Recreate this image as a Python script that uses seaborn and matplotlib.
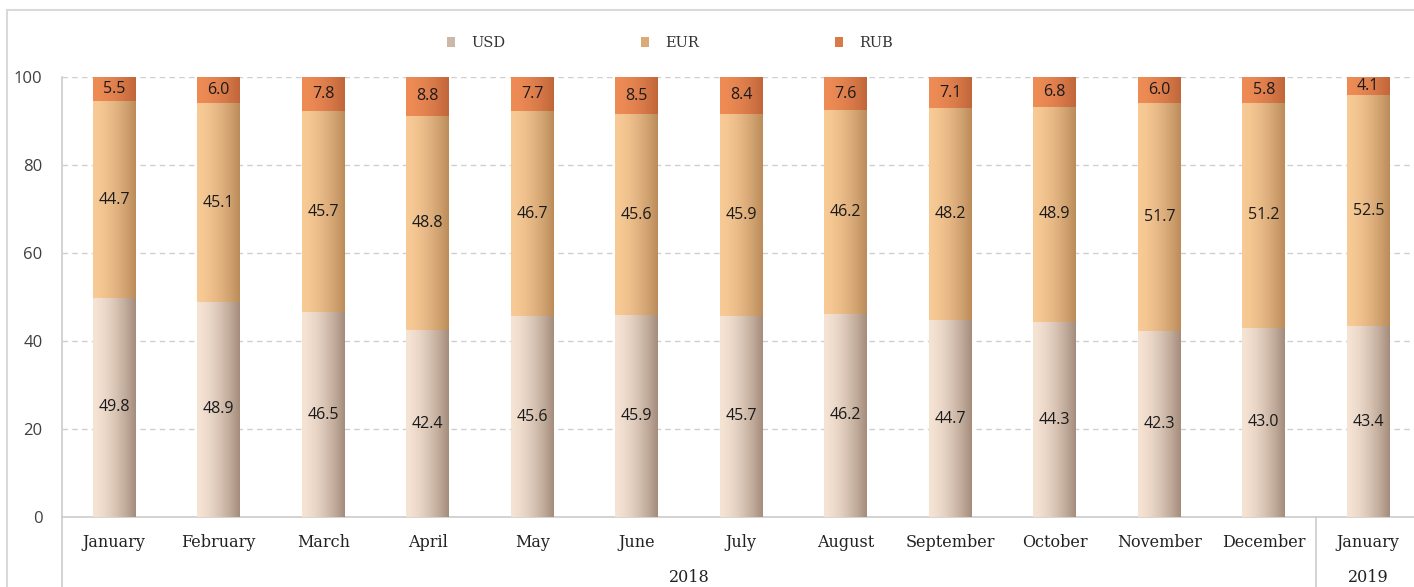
import numpy as np
import pandas as pd
import matplotlib
matplotlib.use('Agg')
import matplotlib.pyplot as plt
import seaborn as sns
from matplotlib.lines import Line2D
from matplotlib.patches import Patch
from matplotlib.colors import to_rgb

# Data
months = ['January', 'February', 'March', 'April', 'May', 'June', 'July',
          'August', 'September', 'October', 'November', 'December', 'January ']
years = ['2018', '2019']
year_sizes = [12, 1]
usd = [49.8, 48.9, 46.5, 42.4, 45.6, 45.9, 45.7, 46.2, 44.7, 44.3, 42.3, 43.0, 43.4]
eur = [44.7, 45.1, 45.7, 48.8, 46.7, 45.6, 45.9, 46.2, 48.2, 48.9, 51.7, 51.2, 52.5]
rub = [5.5, 6.0, 7.8, 8.8, 7.7, 8.5, 8.4, 7.6, 7.1, 6.8, 6.0, 5.8, 4.1]
series = ['USD', 'EUR', 'RUB']

# gradient colors (left -> right) for each series
grads = {
    'USD': ('#f5e3d4', '#a48c7b'),
    'EUR': ('#f8ca96', '#bb8c5a'),
    'RUB': ('#ef8c56', '#c0663a'),
}

df = pd.DataFrame({'month': months, 'USD': usd, 'EUR': eur, 'RUB': rub})
df['lvl_rub'] = df['USD'] + df['EUR'] + df['RUB']
df['lvl_eur'] = df['USD'] + df['EUR']
df['lvl_usd'] = df['USD']

sns.set_style('white')
fig = plt.figure(figsize=(14.14, 5.87), dpi=100)
W, H = 1414, 587
x0_px, step_px = 62, 104.5
ax = fig.add_axes([x0_px / W, 70 / H, 1 - x0_px / W, (517 - 77) / H])

bw = 0.41
layers = [('RUB', 'lvl_rub'), ('EUR', 'lvl_eur'), ('USD', 'lvl_usd')]
n_before = 0
for li, (name, col) in enumerate(layers):
    sns.barplot(data=df, x='month', y=col, color=grads[name][0], width=bw,
                ax=ax, errorbar=None, zorder=3 + li)
    new_patches = ax.patches[n_before:]
    n_before = len(ax.patches)
    c0 = np.array(to_rgb(grads[name][0]))
    c1 = np.array(to_rgb(grads[name][1]))
    t = np.linspace(0, 1, 128) ** 1.6
    img = (c0[None, :] * (1 - t[:, None]) + c1[None, :] * t[:, None])[None, :, :]
    for p in new_patches:
        px, py = p.get_x(), p.get_y()
        pw, ph = p.get_width(), p.get_height()
        p.set_facecolor('none')
        p.set_edgecolor('none')
        im = ax.imshow(img, extent=[px, px + pw, py, py + ph], aspect='auto',
                       zorder=3 + li, interpolation='bilinear')
        im.set_clip_path(p)

# segment value labels
bottoms = np.zeros(len(months))
for name in series:
    vals = np.array(df[name])
    for i, v in enumerate(vals):
        ax.text(i, bottoms[i] + v / 2, f'{v:.1f}', ha='center', va='center',
                fontsize=11.5, color='#1a1a1a', family='Open Sans', zorder=10)
    bottoms = bottoms + vals

ax.set_xlim(-0.5, -0.5 + (W - x0_px) / step_px)
ax.set_ylim(0, 100)
ax.set_yticks([0, 20, 40, 60, 80, 100])
ax.set_yticklabels(['0', '20', '40', '60', '80', '100'], family='Open Sans',
                   fontsize=12, color='#404040')
ax.tick_params(axis='y', length=0, pad=14)
ax.tick_params(axis='x', length=0, pad=12)
ax.set_xticks(range(len(months)))
ax.set_xticklabels([m.strip() for m in months], family='DejaVu Serif',
                   fontsize=11.5, color='#222222')
ax.set_xlabel('')
ax.set_ylabel('')
ax.yaxis.grid(True, linestyle=(0, (4, 3)), color='#cfcfcf', linewidth=1)
ax.set_axisbelow(True)
for s in ['top', 'right']:
    ax.spines[s].set_visible(False)
ax.spines['bottom'].set_color('#cccccc')
ax.spines['left'].set_color('#cccccc')
ax.spines['bottom'].set_linewidth(1.2)
ax.spines['left'].set_linewidth(1.2)

# group lines and year labels below the axis
trans = ax.get_xaxis_transform()
ylow = -70 / (517 - 77)
ax.add_line(Line2D([-0.5, -0.5], [0, ylow], transform=trans, color='#cccccc',
                   lw=1.2, clip_on=False))
start = -0.5
for yr, n in zip(years, year_sizes):
    end = start + n
    ax.add_line(Line2D([end, end], [0, ylow], transform=trans, color='#cccccc',
                       lw=1.2, clip_on=False))
    ax.text((start + end) / 2, -60 / 440, yr, transform=trans, ha='center',
            va='center', family='DejaVu Serif', fontsize=11.5, color='#222222')
    start = end

# outer chart border
fig.add_artist(Line2D([7 / W, 7 / W], [0, 1 - 10 / H], color='#d9d9d9', lw=1.5))
fig.add_artist(Line2D([7 / W, 1], [1 - 10 / H, 1 - 10 / H], color='#d9d9d9', lw=1.5))

# legend
handles = [Patch(facecolor=tuple((np.array(to_rgb(grads[s][0])) + np.array(to_rgb(grads[s][1]))) / 2),
                 edgecolor='none') for s in series]
leg = fig.legend(handles, series, loc='center', bbox_to_anchor=(670 / W, 1 - 43 / H),
                 ncol=3, frameon=False, handlelength=0.55, handleheight=0.7,
                 handletextpad=1.1, columnspacing=9.3,
                 prop={'family': 'DejaVu Serif', 'size': 10.5})
for t in leg.get_texts():
    t.set_color('#333333')

fig.savefig('out.png', dpi=100)
